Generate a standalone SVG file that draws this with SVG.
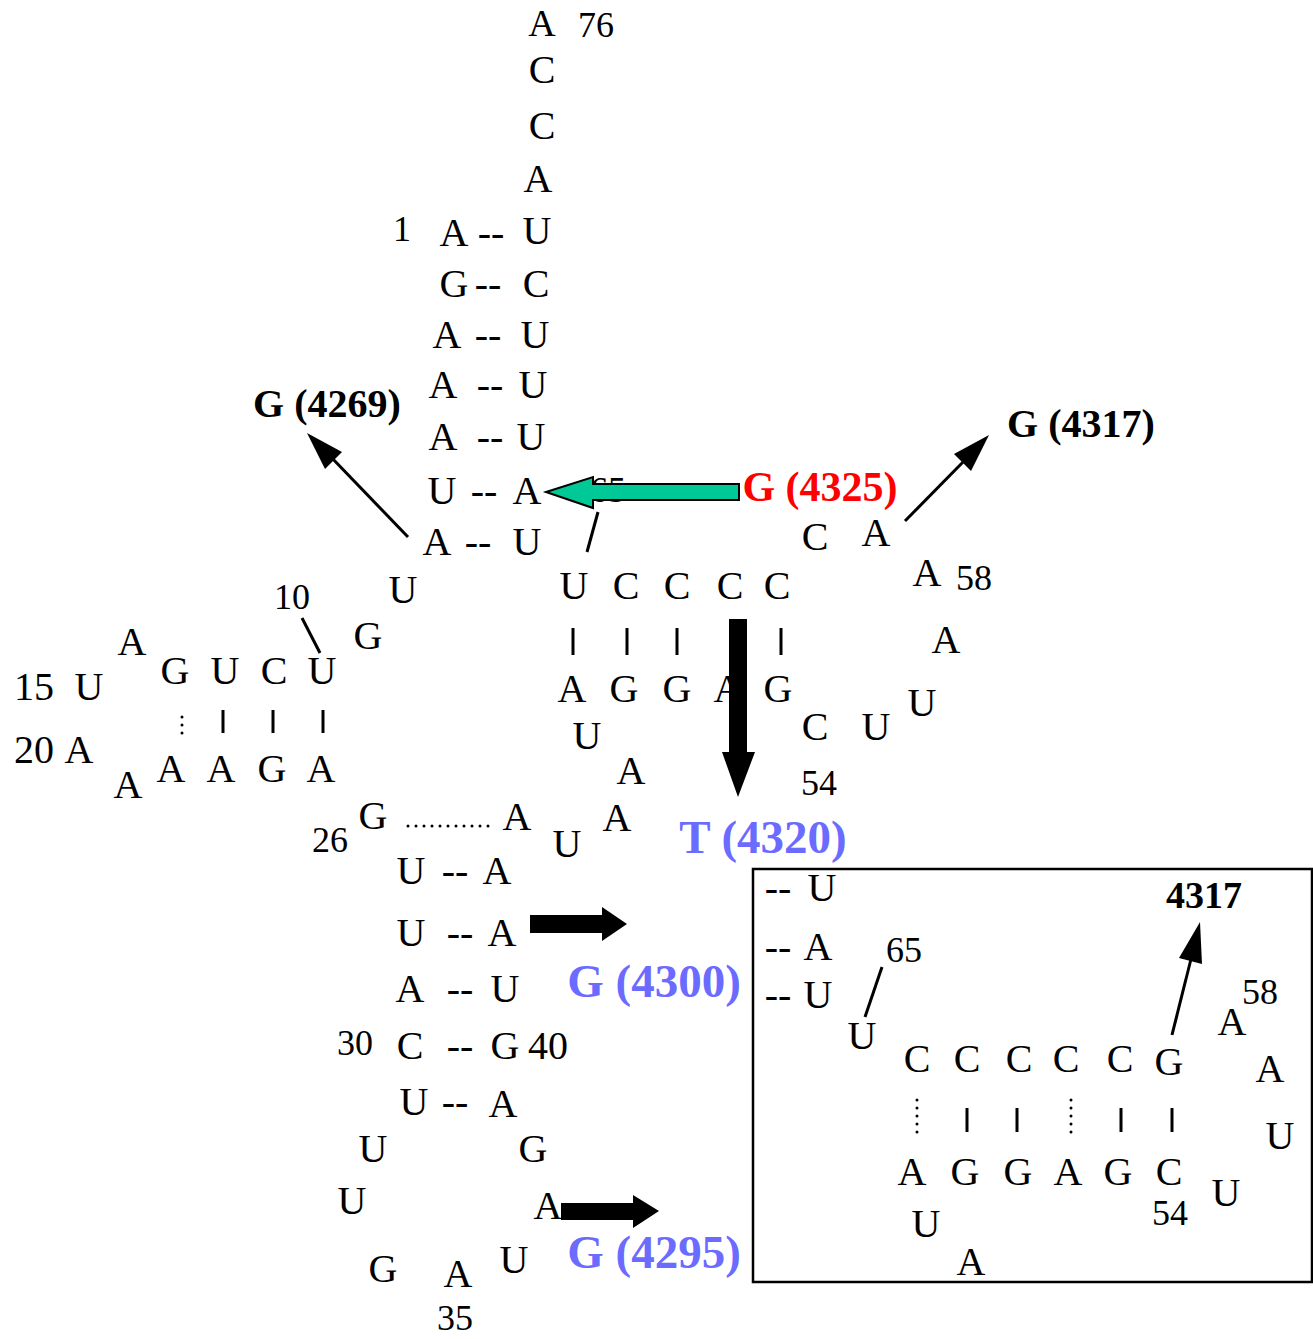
<svg xmlns="http://www.w3.org/2000/svg" width="1313" height="1339" viewBox="0 0 1313 1339">
<style>
text{font-family:"Liberation Serif","Times New Roman",serif;text-anchor:middle;fill:#000}
.n{font-size:40px}
.d{font-size:36px}
.p{font-size:40px}
.lb{font-size:40px;font-weight:bold}
.red{font-size:42px;font-weight:bold;fill:#ff0000}
.blue{font-size:47px;font-weight:bold;fill:#6b6bff}
.bar{stroke:#000;stroke-width:3}
.dot{stroke:#000;stroke-width:3;stroke-linecap:round;stroke-dasharray:0 8}
.thin{stroke:#000;stroke-width:3;fill:none}
</style>
<rect width="1313" height="1339" fill="#fff"/>

<g id="acceptor-arm">
<text class="n" x="542" y="36" style="font-size:38px">A</text><text class="d" x="596" y="37">76</text>
<text class="n" x="542" y="83">C</text>
<text class="n" x="542" y="139">C</text>
<text class="n" x="538" y="192">A</text>
<text class="d" x="402" y="241">1</text>
<text class="n" x="454" y="246">A</text><text class="p" x="491" y="246">--</text><text class="n" x="537" y="244">U</text>
<text class="n" x="454" y="297">G</text><text class="p" x="488" y="297">--</text><text class="n" x="536" y="297">C</text>
<text class="n" x="447" y="348">A</text><text class="p" x="488" y="348">--</text><text class="n" x="535" y="348">U</text>
<text class="n" x="443" y="398">A</text><text class="p" x="490" y="398">--</text><text class="n" x="533" y="398">U</text>
<text class="n" x="443" y="450">A</text><text class="p" x="490" y="450">--</text><text class="n" x="531" y="450">U</text>
<text class="n" x="442" y="504">U</text><text class="p" x="484" y="504">--</text><text class="n" x="527" y="504">A</text>
<text class="n" x="437" y="555">A</text><text class="p" x="478" y="555">--</text><text class="n" x="527" y="555">U</text>
</g>

<g id="d-arm">
<text class="n" x="403" y="603">U</text>
<text class="n" x="368" y="649">G</text>
<text class="d" x="292" y="609">10</text>
<text class="n" x="132" y="655">A</text>
<text class="n" x="175" y="684">G</text><text class="n" x="225" y="684">U</text><text class="n" x="274" y="684">C</text><text class="n" x="322" y="684">U</text>
<text class="n" x="34" y="700">15</text><text class="n" x="89" y="700">U</text>
<line class="dot" x1="182" y1="717" x2="182" y2="734"/>
<line class="bar" x1="223" y1="710" x2="223" y2="733"/>
<line class="bar" x1="273" y1="710" x2="273" y2="733"/>
<line class="bar" x1="323" y1="710" x2="323" y2="733"/>
<text class="n" x="34" y="763">20</text><text class="n" x="79" y="763">A</text>
<text class="n" x="128" y="798">A</text>
<text class="n" x="171" y="782">A</text><text class="n" x="221" y="782">A</text><text class="n" x="272" y="782">G</text><text class="n" x="321" y="782">A</text>
</g>

<g id="anticodon-arm">
<text class="d" x="330" y="852">26</text>
<text class="n" x="373" y="829">G</text>
<line class="dot" x1="408" y1="826" x2="490" y2="826"/>
<text class="n" x="517" y="830">A</text>
<text class="n" x="411" y="884">U</text><text class="p" x="455" y="884">--</text><text class="n" x="497" y="884">A</text>
<text class="n" x="411" y="946">U</text><text class="p" x="460" y="946">--</text><text class="n" x="502" y="946">A</text>
<text class="n" x="410" y="1002">A</text><text class="p" x="460" y="1002">--</text><text class="n" x="505" y="1002">U</text>
<text class="d" x="355" y="1055">30</text>
<text class="n" x="410" y="1059">C</text><text class="p" x="460" y="1059">--</text><text class="n" x="505" y="1059">G</text><text class="n" x="548" y="1059">40</text>
<text class="n" x="414" y="1115">U</text><text class="p" x="455" y="1115">--</text><text class="n" x="503" y="1117">A</text>
<text class="n" x="373" y="1162">U</text><text class="n" x="533" y="1162">G</text>
<text class="n" x="352" y="1214">U</text><text class="n" x="548" y="1219">A</text>
<text class="n" x="383" y="1282">G</text><text class="n" x="458" y="1287">A</text><text class="n" x="514" y="1273">U</text>
<text class="d" x="455" y="1330">35</text>
</g>

<g id="variable-loop">
<text class="n" x="587" y="749">U</text>
<text class="n" x="631" y="784">A</text>
<text class="n" x="617" y="831">A</text>
<text class="n" x="567" y="857">U</text>
</g>

<g id="t-arm">
<text class="d" x="608" y="502">65</text>
<text class="n" x="574" y="599">U</text><text class="n" x="626" y="599">C</text><text class="n" x="677" y="599">C</text><text class="n" x="730" y="599">C</text><text class="n" x="777" y="599">C</text>
<line class="bar" x1="573" y1="628" x2="573" y2="655"/>
<line class="bar" x1="627" y1="628" x2="627" y2="655"/>
<line class="bar" x1="677" y1="628" x2="677" y2="655"/>
<line class="bar" x1="781" y1="628" x2="781" y2="655"/>
<text class="n" x="572" y="702">A</text><text class="n" x="624" y="702">G</text><text class="n" x="677" y="702">G</text><text class="n" x="728" y="702">A</text><text class="n" x="778" y="702">G</text>
<text class="n" x="815" y="740">C</text><text class="n" x="876" y="740">U</text>
<text class="n" x="922" y="716">U</text>
<text class="n" x="946" y="653">A</text>
<text class="n" x="927" y="586">A</text><text class="d" x="974" y="590">58</text>
<text class="n" x="876" y="546">A</text>
<text class="n" x="815" y="550">C</text>
<text class="d" x="819" y="795">54</text>
</g>

<g id="labels">
<text class="lb" x="327" y="417">G (4269)</text>
<text class="lb" x="1081" y="437">G (4317)</text>
<text class="red" x="820" y="501">G (4325)</text>
<text class="blue" x="763" y="853">T (4320)</text>
<text class="blue" x="654" y="997">G (4300)</text>
<text class="blue" x="654" y="1268">G (4295)</text>
</g>

<g id="inset">
<rect x="753" y="869" width="559" height="413" fill="none" stroke="#000" stroke-width="2.5"/>
<text class="p" x="778" y="901">--</text><text class="n" x="822" y="901">U</text>
<text class="p" x="778" y="960">--</text><text class="n" x="818" y="960">A</text>
<text class="p" x="778" y="1008">--</text><text class="n" x="818" y="1008">U</text>
<text class="d" x="904" y="962">65</text>
<text class="n" x="862" y="1049">U</text>
<text class="n" x="917" y="1072">C</text><text class="n" x="967" y="1072">C</text><text class="n" x="1019" y="1072">C</text><text class="n" x="1066" y="1072">C</text><text class="n" x="1120" y="1072">C</text><text class="n" x="1169" y="1075">G</text>
<text class="lb" x="1204" y="908" style="font-size:38px">4317</text>
<text class="d" x="1260" y="1004">58</text>
<text class="n" x="1232" y="1035">A</text>
<text class="n" x="1270" y="1082">A</text>
<text class="n" x="1280" y="1149">U</text>
<line class="dot" x1="917" y1="1100" x2="917" y2="1135"/>
<line class="bar" x1="967" y1="1108" x2="967" y2="1132"/>
<line class="bar" x1="1017" y1="1108" x2="1017" y2="1132"/>
<line class="dot" x1="1071" y1="1100" x2="1071" y2="1135"/>
<line class="bar" x1="1121" y1="1108" x2="1121" y2="1132"/>
<line class="bar" x1="1172" y1="1108" x2="1172" y2="1132"/>
<text class="n" x="912" y="1185">A</text><text class="n" x="965" y="1185">G</text><text class="n" x="1018" y="1185">G</text><text class="n" x="1068" y="1185">A</text><text class="n" x="1118" y="1185">G</text><text class="n" x="1169" y="1185">C</text>
<text class="n" x="1226" y="1206">U</text>
<text class="d" x="1170" y="1225">54</text>
<text class="n" x="926" y="1237">U</text>
<text class="n" x="971" y="1275">A</text>
</g>

<g id="connectors">
<line class="thin" x1="302" y1="618" x2="320" y2="653"/>
<line class="thin" x1="598" y1="512" x2="587" y2="552"/>
<line class="thin" x1="882" y1="967" x2="865" y2="1017"/>
<line class="thin" x1="408" y1="537" x2="330" y2="456"/>
<polygon points="307,433 342,452 325,469"/>
<line class="thin" x1="905" y1="521" x2="966" y2="459"/>
<polygon points="989,435 971,471 954,454"/>
<line class="thin" x1="1172" y1="1035" x2="1192" y2="955"/>
<polygon points="1200,922 1202,964 1179,958"/>
<polygon points="546,492 593,477 593,484 739,484 739,500 593,500 593,508" fill="#00c896" stroke="#000" stroke-width="2"/>
<polygon points="729,619 747,619 747,752 755,752 738,797 722,752 729,752"/>
<polygon points="530,915 602,915 602,907 627,924 602,941 602,933 530,933"/>
<polygon points="561,1203 633,1203 633,1195 659,1211 633,1228 633,1220 561,1220"/>
</g>
</svg>
